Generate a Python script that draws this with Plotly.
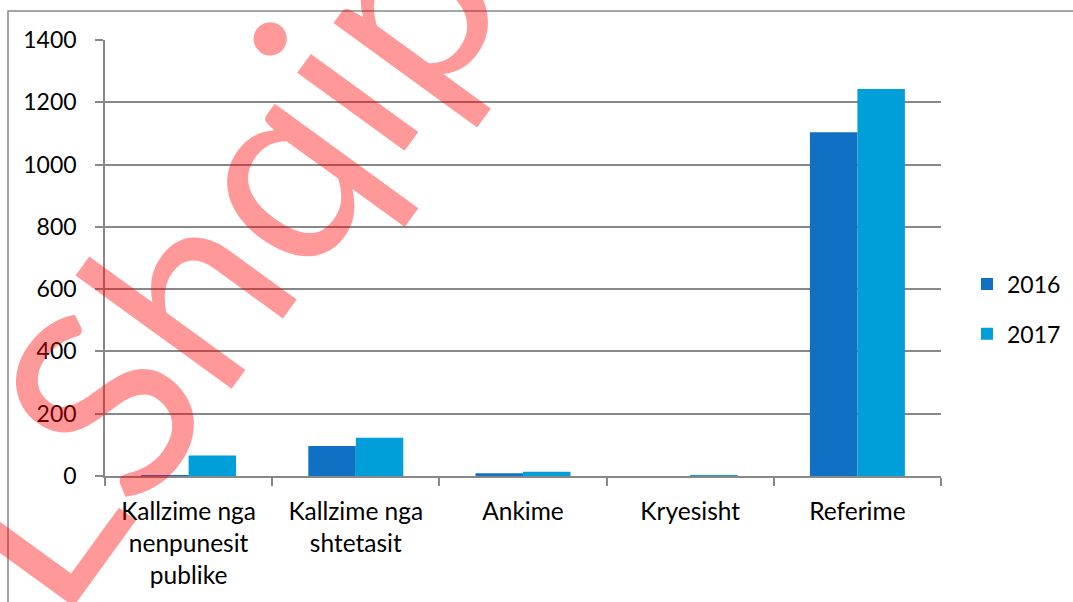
import plotly.graph_objects as go

categories = ["Kallzime nga<br>nenpunesit<br>publike", "Kallzime nga<br>shtetasit",
              "Ankime", "Kryesisht", "Referime"]
series_names = ["2016", "2017"]
values_2016 = [2, 96, 9, 0, 1104]
values_2017 = [66, 123, 14, 2, 1243]
y_ticks = [0, 200, 400, 600, 800, 1000, 1200, 1400]
watermark = "LShqip"

colors = ["#1070C4", "#009FD9"]
FONT = "Lato"
GRID = "#888888"

fig = go.Figure()
for name, vals, col in zip(series_names, [values_2016, values_2017], colors):
    fig.add_trace(go.Bar(x=categories, y=vals, name=name, marker_color=col,
                         marker_line_width=0, legendgroup=name))

W, H = 1073, 602
L, T, B = 105, 40, 126
PLOT_RIGHT = 941
pw = W - L
ph = H - T - B

def px2paper(x, y):
    return (x - L) / pw, (H - B - y) / ph

fig.update_layout(
    width=W, height=H,
    margin=dict(l=L, r=0, t=T, b=B, pad=0),
    paper_bgcolor="white", plot_bgcolor="white",
    font=dict(family=FONT, size=23, color="#000000"),
    barmode="group", bargap=0.432, bargroupgap=0,
    legend=dict(x=px2paper(967, 0)[0], xanchor="left",
                y=px2paper(0, 309)[1], yanchor="middle",
                font=dict(family=FONT, size=23, color="#000000"),
                tracegroupgap=17, traceorder="grouped",
                bgcolor="rgba(0,0,0,0)"),
    showlegend=True,
)
fig.update_xaxes(domain=[0, (PLOT_RIGHT - L) / pw],
                 showgrid=False, showline=True, linecolor=GRID, linewidth=1.5,
                 ticks="outside", tickson="boundaries", ticklen=8, tickcolor=GRID,
                 tickwidth=1.5, ticklabelstandoff=13,
                 tickfont=dict(family=FONT, size=24.5, color="#000"))
fig.update_yaxes(range=[0, 1400], tickvals=y_ticks, showgrid=True, gridcolor=GRID,
                 gridwidth=1.5, showline=True, linecolor=GRID, linewidth=1.5,
                 ticks="outside", ticklen=8, tickcolor=GRID, tickwidth=1.5,
                 ticklabelstandoff=14, zeroline=False,
                 tickfont=dict(family=FONT, size=23, color="#000"))

# outer frame
x0, y0 = px2paper(8, 11)
x1, y1 = px2paper(1120, 660)
fig.add_shape(type="rect", xref="paper", yref="paper", x0=x0, y0=y1, x1=x1, y1=y0,
              line=dict(color=GRID, width=1.5), layer="below")

# watermark
wx, wy = px2paper(205, 252)
fig.add_annotation(xref="paper", yref="paper", x=wx, y=wy, text=watermark,
                   xanchor="center", yanchor="middle",
                   showarrow=False, textangle=-54,
                   font=dict(family=FONT, size=262, color="rgba(255,0,0,0.4)"))

fig.write_html("out.html")
